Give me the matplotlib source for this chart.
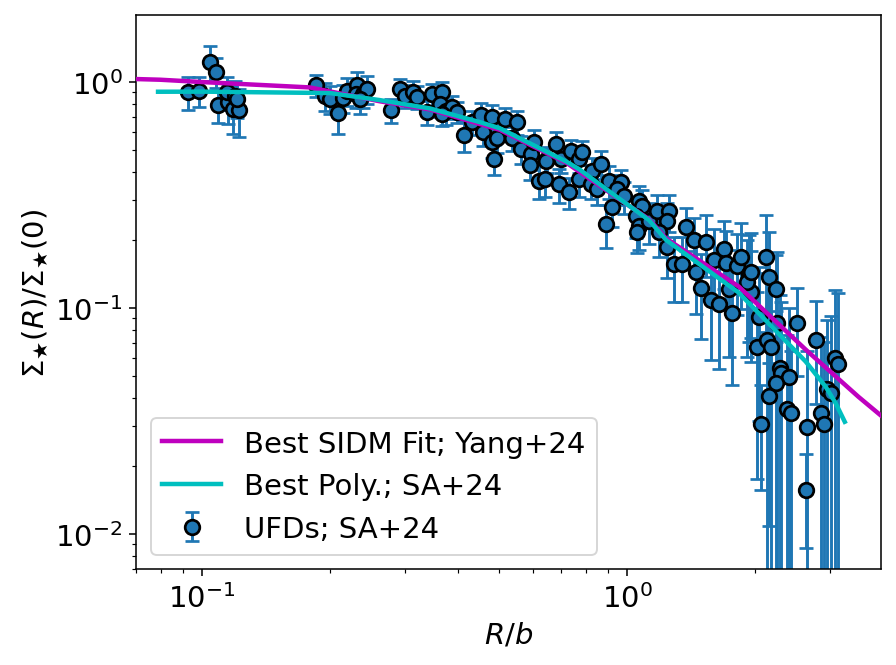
"""
Normalised stellar surface density profile of UFDs vs. best-fit models.
"""

import numpy as np
import matplotlib
matplotlib.use('Agg')
import matplotlib.pyplot as plt


# UFD stacked profile (R/b, Sigma/Sigma0, 1-sigma error).
r_ufd = [0.0927, 0.0984, 0.1044, 0.1079, 0.1091, 0.1151, 0.1146, 0.1196,
         0.1183, 0.1221, 0.1208,
         0.185, 0.195, 0.200, 0.209, 0.215, 0.219, 0.231, 0.230, 0.239,
         0.244, 0.235, 0.278, 0.292, 0.300, 0.313, 0.321, 0.339, 0.347,
         0.366, 0.362, 0.374, 0.388,
         0.366, 0.397, 0.414, 0.431, 0.454, 0.457, 0.480, 0.482, 0.493,
         0.485, 0.517, 0.552, 0.535, 0.564, 0.595, 0.592, 0.605, 0.621,
         0.642, 0.649, 0.681, 0.692, 0.700, 0.731, 0.739, 0.771,
         0.784, 0.645, 0.771, 0.828, 0.869, 0.823, 0.850, 0.908, 0.968,
         0.947, 0.923, 0.893, 0.984, 1.067, 1.084, 1.050, 1.067, 1.056,
         1.126, 1.176, 1.255, 1.241, 1.189, 1.241, 1.375, 1.436, 1.289,
         1.346, 1.452,
         1.532, 1.492, 1.574, 1.644, 1.600, 1.690, 1.707, 1.735, 1.764,
         1.812, 1.852, 1.933, 1.955, 1.913, 2.119, 2.153, 2.042, 2.019,
         2.132, 2.177, 2.238,
         1.955, 2.249, 2.506, 2.286, 2.299, 2.400, 2.238, 2.153, 2.064,
         2.375, 2.427, 2.778, 2.646, 2.631, 2.853, 2.899, 2.946, 3.01,
         3.09, 3.13]
sig_ufd = [0.903, 0.912, 1.227, 1.107, 0.791, 0.815, 0.903, 0.867,
           0.759, 0.751, 0.841,
           0.970, 0.867, 0.841, 0.729, 0.849, 0.912, 0.970, 0.885, 0.885,
           0.931, 0.841, 0.751, 0.931, 0.867, 0.903, 0.858, 0.736, 0.885,
           0.903, 0.799, 0.744, 0.775,
           0.721, 0.736, 0.582, 0.665, 0.714, 0.600, 0.700, 0.542, 0.565,
           0.456, 0.685, 0.665, 0.565, 0.505, 0.480, 0.428, 0.542, 0.364,
           0.371, 0.456, 0.531, 0.353, 0.456, 0.325, 0.494, 0.456,
           0.489, 0.446, 0.371, 0.403, 0.433, 0.353, 0.336, 0.364, 0.360,
           0.336, 0.279, 0.235, 0.312, 0.297, 0.282, 0.255, 0.230, 0.216,
           0.242, 0.268, 0.268, 0.242, 0.218, 0.186, 0.228, 0.201, 0.156,
           0.156, 0.144,
           0.197, 0.123, 0.109, 0.104, 0.164, 0.182, 0.159, 0.121, 0.0955,
           0.153, 0.169, 0.141, 0.118, 0.131, 0.168, 0.137, 0.0917, 0.0675,
           0.0725, 0.0675, 0.121,
           0.144, 0.0863, 0.0863, 0.0545, 0.0518, 0.0497, 0.0467, 0.0409,
           0.0307, 0.0358, 0.0344, 0.0725, 0.0298, 0.0157, 0.0344, 0.0307,
           0.0440, 0.0422, 0.0603, 0.0568]
err_ufd = [0.15, 0.14, 0.22, 0.17, 0.13, 0.16, 0.15, 0.14,
           0.17, 0.18, 0.15,
           0.11, 0.12, 0.12, 0.14, 0.12, 0.13, 0.14, 0.12, 0.12,
           0.13, 0.12, 0.09, 0.10, 0.10, 0.11, 0.10, 0.09, 0.10,
           0.10, 0.10, 0.10, 0.09,
           0.08, 0.08, 0.09, 0.08, 0.09, 0.08, 0.09, 0.08, 0.08,
           0.07, 0.08, 0.08, 0.07, 0.07, 0.07, 0.06, 0.07, 0.06,
           0.06, 0.06, 0.07, 0.06, 0.06, 0.05, 0.06, 0.06,
           0.06, 0.06, 0.06, 0.06, 0.06, 0.05, 0.05, 0.06, 0.05,
           0.05, 0.05, 0.05, 0.05, 0.05, 0.05, 0.05, 0.05, 0.04,
           0.05, 0.05, 0.05, 0.05, 0.05, 0.05, 0.05, 0.05, 0.05,
           0.05, 0.05,
           0.06, 0.05, 0.05, 0.05, 0.06, 0.06, 0.06, 0.06, 0.05,
           0.06, 0.07, 0.07, 0.06, 0.07, 0.09, 0.08, 0.06, 0.05,
           0.07, 0.07, 0.05,
           0.07, 0.09, 0.036, 0.06, 0.055, 0.05, 0.05, 0.03,
           0.015, 0.04, 0.03, 0.035, 0.035, 0.007, 0.04, 0.04,
           0.045, 0.05, 0.06, 0.06]

# Best SIDM fit (Yang+24)
r_sidm = [0.070, 0.0797, 0.10, 0.179, 0.262, 0.343, 0.501, 0.719, 0.942,
          1.126, 1.235, 1.83, 2.63, 3.50, 3.95]
sig_sidm = [1.031, 1.024, 1.0, 0.947, 0.822, 0.757, 0.615, 0.44, 0.31,
            0.247, 0.203, 0.1245, 0.0655, 0.0405, 0.0335]

# Best polytrope (SA+24)
r_poly = [0.0788, 0.10, 0.20, 0.262, 0.343, 0.450, 0.501, 0.719, 0.772,
          0.942, 1.126, 1.235, 1.83, 2.63, 2.93, 3.09, 3.25]
sig_poly = [0.906, 0.907, 0.894, 0.832, 0.765, 0.665, 0.625, 0.445, 0.411,
            0.312, 0.245, 0.200, 0.117, 0.058, 0.0449, 0.0381, 0.0314]

fig = plt.figure(figsize=(6.4, 4.757), dpi=140)
ax = fig.add_axes([0.152, 0.144, 0.831, 0.832])

ax.errorbar(r_ufd, sig_ufd, yerr=err_ufd, fmt='o', color='C0', mec='k',
            ms=7.5, mew=1.4, capsize=3.5, label='UFDs; SA+24', zorder=2)
ax.plot(r_sidm, sig_sidm, 'm', lw=2.3, label='Best SIDM Fit; Yang+24',
        zorder=4)
ax.plot(r_poly, sig_poly, 'c', lw=2.3, label='Best Poly.; SA+24', zorder=5)

ax.set_xscale('log')
ax.set_yscale('log')
ax.set_xlim(0.07, 3.95)
ax.set_ylim(0.007, 1.98)
ax.tick_params(labelsize=15)
ax.set_xlabel('$R/b$', fontsize=15)
ax.set_ylabel(r'$\Sigma_\bigstar(R)/\Sigma_\bigstar(0)$', fontsize=15,
              labelpad=2)
ax.legend(loc='lower left', fontsize=15)

fig.savefig('out.png', dpi=140)
